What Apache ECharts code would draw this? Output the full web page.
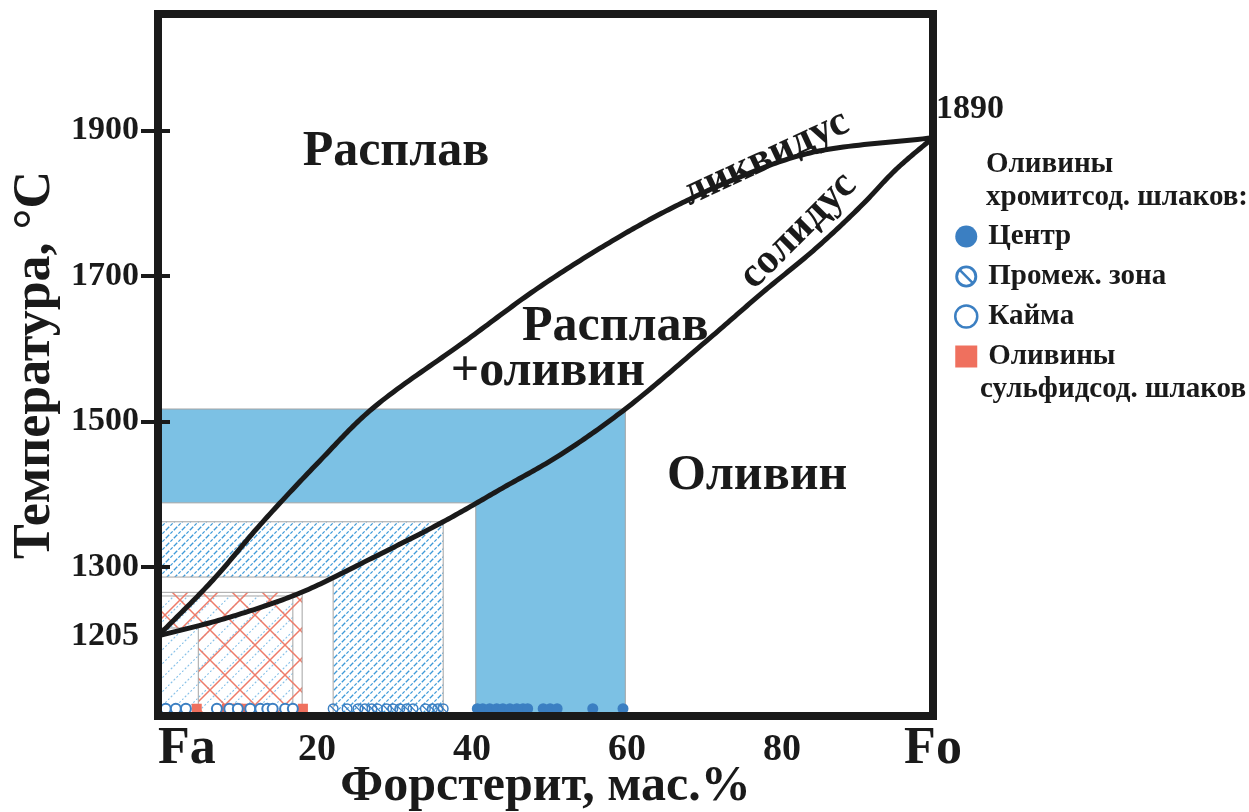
<!DOCTYPE html>
<html>
<head>
<meta charset="utf-8">
<script src="https://cdn.jsdelivr.net/npm/echarts@6/dist/echarts.min.js"></script>
<style>
  html, body { margin: 0; padding: 0; background: #fff; }
  #chart { width: 1249px; height: 812px; }
</style>
</head>
<body>
<div id="chart"></div>
<script>
// Fayalite–forsterite phase diagram with olivine composition ranges of slags

// axis values
const T_MIN = 1095;
const T_MAX = 2060;
const tempLabelValues = [1205, 1300, 1500, 1700, 1900];
const tempTickValues = [1300, 1500, 1700, 1900];
const foLabelValues = [0, 20, 40, 60, 80, 100];
const endMembers = { 0: 'Fa', 100: 'Fo' };

// phase boundaries: [Fo, wt.%; T, °C]
const liquidus = [
  [0, 1205], [7.1, 1282], [13.2, 1358], [20.9, 1446], [27.6, 1517],
  [39.6, 1610], [49.4, 1686], [59.4, 1753], [66.8, 1796], [74.2, 1832],
  [84.1, 1869], [100, 1890]
];
const solidus = [
  [0, 1205], [9.3, 1231], [18.3, 1264], [27.6, 1312], [36.8, 1362],
  [44.4, 1408], [51.9, 1454], [60.3, 1517], [70.6, 1609], [78.1, 1678],
  [84.8, 1737], [90.8, 1797], [95.2, 1846], [100, 1890]
];

// composition / temperature ranges: [stem Fo from, stem Fo to, band T low, top T]
const rimZone = [0, 17.4, 1260, 1260];
const sulfideZone = [5.2, 18.6, 1216, 1265];
const intermediateZone = [22.6, 36.8, 1286, 1362];
const centreZone = [41.0, 60.3, 1388, 1517];

// measured olivine compositions (Fo, wt.%)
const sampleT = 1105;
const centreFo = [41.2, 41.9, 42.8, 43.7, 44.5, 45.4, 46.3, 47.1, 47.7, 49.7, 50.6, 51.5, 56.1, 60.0];
const intermediateFo = [22.6, 24.4, 25.8, 26.7, 27.6, 28.3, 29.5, 30.3, 31.2, 32.1, 32.9, 34.5, 35.4, 36.1, 36.8];
const rimFo = [1.0, 2.3, 3.6, 7.6, 9.2, 10.3, 11.9, 13.2, 14.1, 14.8, 16.4, 17.4];
const sulfideFo = [5.0, 8.9, 9.7, 10.3, 11.0, 18.7];

// field and boundary names: [Fo, T, text]
const fieldNames = [
  [30.7, 1870, 'Расплав'],
  [59.0, 1630, 'Расплав'],
  [50.3, 1568, '+оливин'],
  [77.3, 1425, 'Оливин']
];
const boundaryNames = [
  [78.4, 1862, 'ликвидус', 25],
  [82.6, 1762, 'солидус', 45]
];

const INK = '#1a1a1a';
const BLUE = '#3b7fc2';
const RED = '#ef705e';
const FILL_BLUE = '#7cc1e4';
const SERIF = '"Liberation Serif", "Times New Roman", serif';

function tile(w, h, draw) {
  const c = document.createElement('canvas');
  c.width = w; c.height = h;
  draw(c.getContext('2d'), w, h);
  return c;
}
// dense dashed hatch for intermediate zone
const denseHatch = tile(8, 8, (g, w, h) => {
  g.strokeStyle = '#3e9ad8'; g.lineWidth = 1.3; g.setLineDash([3.2, 1.6]);
  g.beginPath(); g.moveTo(-1, h + 1); g.lineTo(w + 1, -1); g.stroke();
  g.setLineDash([]);
  g.beginPath(); g.moveTo(-1, 1); g.lineTo(1, -1); g.moveTo(w - 1, h + 1); g.lineTo(w + 1, h - 1); g.stroke();
});
// sparse dotted hatch for rim zone
const sparseHatch = tile(14, 14, (g, w, h) => {
  g.strokeStyle = '#86c0e8'; g.lineWidth = 1.1; g.setLineDash([2, 2]);
  g.beginPath(); g.moveTo(0, h); g.lineTo(w, 0); g.stroke();
});
// cross hatch for sulfide zone
const crossHatch = tile(30, 30, (g, w, h) => {
  g.strokeStyle = '#ee7b69'; g.lineWidth = 1.5;
  g.beginPath(); g.moveTo(0, 0); g.lineTo(w, h); g.moveTo(0, h); g.lineTo(w, 0); g.stroke();
});

function zoneSeries(zone, fill) {
  return {
    type: 'custom',
    coordinateSystem: 'cartesian2d',
    silent: true,
    encode: { x: [0, 1], y: [2, 3] },
    data: [zone],
    renderItem(params, api) {
      const s0 = api.value(0), s1 = api.value(1), lo = api.value(2), hi = api.value(3);
      const pts = [[0, hi], [s1, hi], [s1, T_MIN], [s0, T_MIN], [s0, lo], [0, lo]].map(p => api.coord(p));
      return { type: 'polygon', shape: { points: pts }, style: { fill: fill, stroke: '#a4a4a4', lineWidth: 1 } };
    }
  };
}

// centripetal Catmull–Rom curve through pixel points
function splinePoints(pts, steps) {
  const lerp = (a, b, ta, tb, t) => {
    const u = (t - ta) / (tb - ta);
    return [a[0] + (b[0] - a[0]) * u, a[1] + (b[1] - a[1]) * u];
  };
  const knot = (a, b) => Math.max(Math.sqrt(Math.hypot(b[0] - a[0], b[1] - a[1])), 1e-3);
  const n = pts.length;
  const out = [];
  for (let i = 0; i < n - 1; i++) {
    const p1 = pts[i], p2 = pts[i + 1];
    const p0 = i > 0 ? pts[i - 1] : [2 * p1[0] - p2[0], 2 * p1[1] - p2[1]];
    const p3 = i < n - 2 ? pts[i + 2] : [2 * p2[0] - p1[0], 2 * p2[1] - p1[1]];
    const t0 = 0, t1 = t0 + knot(p0, p1), t2 = t1 + knot(p1, p2), t3 = t2 + knot(p2, p3);
    for (let k = 0; k < steps; k++) {
      const t = t1 + (t2 - t1) * k / steps;
      const a1 = lerp(p0, p1, t0, t1, t), a2 = lerp(p1, p2, t1, t2, t), a3 = lerp(p2, p3, t2, t3, t);
      const b1 = lerp(a1, a2, t0, t2, t), b2 = lerp(a2, a3, t1, t3, t);
      out.push(lerp(b1, b2, t1, t2, t));
    }
  }
  out.push(pts[n - 1]);
  return out;
}

function boundarySeries(name, points, endLabel) {
  return {
    name: name,
    type: 'custom',
    coordinateSystem: 'cartesian2d',
    silent: true,
    encode: { x: 0, y: 1 },
    data: points,
    renderItem(params, api) {
      if (params.dataIndex !== 0) return null;
      const px = points.map(p => api.coord(p));
      const children = [{
        type: 'polyline',
        shape: { points: splinePoints(px, 24) },
        style: { stroke: INK, lineWidth: 5, fill: 'none', lineJoin: 'round', lineCap: 'round' }
      }];
      if (endLabel) {
        const end = px[px.length - 1];
        children.push({
          type: 'text', x: end[0] + 3, y: end[1] - 28,
          style: { text: String(points[points.length - 1][1]), font: 'bold 34px ' + SERIF, fill: INK, align: 'left', verticalAlign: 'middle' }
        });
      }
      return { type: 'group', children: children };
    }
  };
}

function textSeries(items, fontSize) {
  return {
    type: 'custom',
    coordinateSystem: 'cartesian2d',
    silent: true,
    data: items,
    renderItem(params, api) {
      const p = api.coord([api.value(0), api.value(1)]);
      const item = items[params.dataIndex];
      return {
        type: 'text', x: p[0], y: p[1],
        rotation: (item[3] || 0) * Math.PI / 180,
        style: { text: item[2], font: 'bold ' + fontSize + 'px ' + SERIF, fill: INK, align: 'center', verticalAlign: 'middle' }
      };
    }
  };
}

const slashRing = 'path://M0,10A10,10 0 1,1 20,10A10,10 0 1,1 0,10Z M2.6,10A7.4,7.4 0 1,0 17.4,10A7.4,7.4 0 1,0 2.6,10Z M3.9,5.5L5.5,3.9L16.1,14.5L14.5,16.1Z';

const frameLine = { show: true, lineStyle: { color: INK, width: 8, cap: 'square' } };

const option = {
  backgroundColor: '#ffffff',
  animation: false,
  grid: { left: 158, right: 316, top: 14, bottom: 96, containLabel: false, outerBoundsMode: 'none' },
  xAxis: [
    {
      type: 'value', min: 0, max: 100, z: 10,
      axisLine: frameLine,
      axisTick: { show: false },
      splitLine: { show: false },
      axisLabel: {
        customValues: foLabelValues,
        margin: 8,
        alignMinLabel: 'left',
        formatter: v => endMembers[v] ? '{em|' + endMembers[v] + '}' : '{num|' + v + '}',
        rich: {
          em: { fontFamily: SERIF, fontWeight: 'bold', fontSize: 52, lineHeight: 52, color: INK },
          num: { fontFamily: SERIF, fontWeight: 'bold', fontSize: 38, lineHeight: 52, color: INK, padding: [0, 0, 0, 8] }
        }
      },
      name: 'Форстерит, мас.%',
      nameLocation: 'middle',
      nameGap: 46,
      nameMoveOverlap: false,
      nameTextStyle: { fontFamily: SERIF, fontWeight: 'bold', fontSize: 50, color: INK, verticalAlign: 'top' }
    },
    {
      type: 'value', min: 0, max: 100, position: 'top', z: 10,
      axisLine: frameLine, axisTick: { show: false }, axisLabel: { show: false }, splitLine: { show: false }
    }
  ],
  yAxis: [
    {
      type: 'value', min: T_MIN, max: T_MAX, z: 10,
      axisLine: frameLine,
      splitLine: { show: false },
      axisTick: { show: true, customValues: tempTickValues, length: 17, lineStyle: { color: INK, width: 4 } },
      axisLabel: {
        customValues: tempLabelValues, margin: 19,
        formatter: v => String(v),
        fontFamily: SERIF, fontWeight: 'bold', fontSize: 34, color: INK
      },
      name: 'Температура, °C',
      nameLocation: 'middle',
      nameRotate: 90,
      nameGap: 96,
      nameMoveOverlap: false,
      nameTextStyle: { fontFamily: SERIF, fontWeight: 'bold', fontSize: 52, color: INK }
    },
    {
      type: 'value', min: T_MIN, max: T_MAX, position: 'left', z: 10,
      axisLine: { show: false }, splitLine: { show: false }, axisLabel: { show: false },
      axisTick: { show: true, inside: true, customValues: tempTickValues, length: 12, lineStyle: { color: INK, width: 4 } }
    },
    {
      type: 'value', min: T_MIN, max: T_MAX, position: 'right', z: 10,
      axisLine: frameLine, axisTick: { show: false }, axisLabel: { show: false }, splitLine: { show: false }
    }
  ],
  legend: {
    orient: 'vertical',
    left: 949, top: 216,
    itemWidth: 22, itemHeight: 22, itemGap: 9,
    selectedMode: false,
    textStyle: { fontFamily: SERIF, fontWeight: 'bold', fontSize: 29, lineHeight: 31, color: INK, padding: [0, 0, 0, 6] },
    data: [
      { name: 'Центр', icon: 'circle' },
      { name: 'Промеж. зона', icon: slashRing },
      { name: 'Кайма', icon: 'circle', itemStyle: { color: '#ffffff', borderColor: BLUE, borderWidth: 2.5 } },
      { name: 'Оливины', icon: 'rect' }
    ]
  },
  graphic: [
    { type: 'text', left: 986, top: 148, style: { text: 'Оливины\nхромитсод. шлаков:', font: 'bold 29px ' + SERIF, lineHeight: 33, fill: INK } },
    { type: 'text', left: 980, top: 373, style: { text: 'сульфидсод. шлаков', font: 'bold 29px ' + SERIF, lineHeight: 33, fill: INK } }
  ],
  series: [
    zoneSeries(rimZone, { image: sparseHatch, repeat: 'repeat' }),
    zoneSeries(sulfideZone, { image: crossHatch, repeat: 'repeat' }),
    zoneSeries(intermediateZone, { image: denseHatch, repeat: 'repeat' }),
    zoneSeries(centreZone, FILL_BLUE),
    boundarySeries('ликвидус', liquidus, true),
    boundarySeries('солидус', solidus, false),
    textSeries(fieldNames, 50),
    textSeries(boundaryNames, 42),
    {
      name: 'Оливины', type: 'scatter', symbol: 'rect', symbolSize: 10,
      itemStyle: { color: RED, opacity: 1 },
      data: sulfideFo.map(f => [f, sampleT])
    },
    {
      name: 'Кайма', type: 'scatter', symbol: 'circle', symbolSize: 10,
      itemStyle: { color: '#ffffff', borderColor: BLUE, borderWidth: 2, opacity: 1 },
      data: rimFo.map(f => [f, sampleT])
    },
    {
      name: 'Промеж. зона', type: 'scatter', symbol: slashRing, symbolSize: 11,
      itemStyle: { color: BLUE, opacity: 1 },
      data: intermediateFo.map(f => [f, sampleT])
    },
    {
      name: 'Центр', type: 'scatter', symbol: 'circle', symbolSize: 11,
      itemStyle: { color: BLUE, opacity: 1 },
      data: centreFo.map(f => [f, sampleT])
    }
  ]
};

const chart = echarts.init(document.getElementById('chart'), null, { renderer: 'canvas' });
chart.setOption(option);
</script>
</body>
</html>
